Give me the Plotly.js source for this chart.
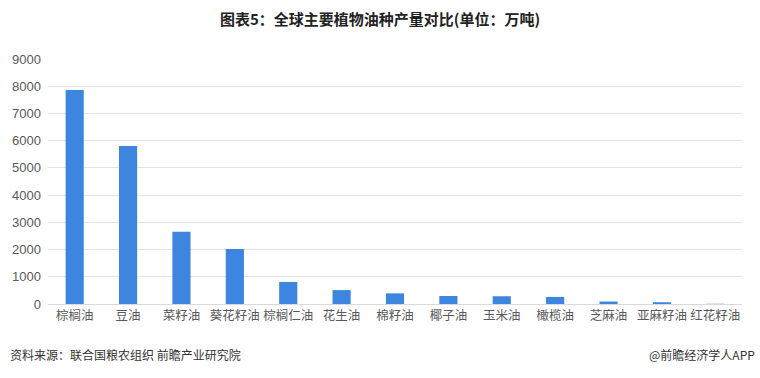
<!DOCTYPE html>
<html><head><meta charset="utf-8">
<script src="https://cdn.plot.ly/plotly-3.0.1.min.js"></script>
<style>html,body{margin:0;padding:0;background:#fff;}#c{width:760px;height:378px;}</style>
</head><body><div id="c"></div>
<script>
const categories = ["棕榈油","豆油","菜籽油","葵花籽油","棕榈仁油","花生油","棉籽油","椰子油","玉米油","橄榄油","芝麻油","亚麻籽油","红花籽油"];
const production = [7860, 5800, 2650, 2020, 810, 510, 390, 295, 285, 260, 90, 65, 8];
const yTicks = [0,1000,2000,3000,4000,5000,6000,7000,8000,9000];

const trace = {
  type: "bar", x: categories, y: production,
  marker: {color: "#3d85de", line: {color: "#3d85de", width: 0}},
  hoverinfo: "x+y"
};
const font = "'Noto Sans CJK SC', 'Microsoft YaHei', sans-serif";
const layout = {
  width: 760, height: 378,
  margin: {l: 48, r: 18, t: 59, b: 74},
  paper_bgcolor: "#fff", plot_bgcolor: "#fff",
  bargap: 0.66,
  showlegend: false,
  font: {family: font, color: "#595959", size: 12},
  title: {text: "<b>图表5：全球主要植物油种产量对比(单位：万吨)</b>", x: 0.5, xanchor: "center", y: 0.948, yanchor: "middle",
          font: {family: font, size: 15, color: "#222"}},
  xaxis: {type: "category", showgrid: false, showline: true, linecolor: "#d9d9d9", linewidth: 1, ticks: "",
          tickfont: {family: font, size: 12.5, color: "#595959"}, automargin: false},
  yaxis: {range: [0, 9000], tickvals: yTicks, ticktext: yTicks.map(String), showgrid: true, gridcolor: "#e3e3e3", gridwidth: 1,
          zeroline: false, showline: false, ticks: "", ticklen: 0, ticklabelstandoff: 6,
          tickfont: {family: "'Liberation Sans', Arial, sans-serif", size: 13, color: "#595959"},
          automargin: false},
  annotations: [
    {text: "资料来源：联合国粮农组织 前瞻产业研究院", xref: "paper", yref: "paper", x: -0.058, y: -0.208, xanchor: "left", yanchor: "middle",
     showarrow: false, font: {family: font, size: 12, color: "#333"}},
    {text: "@前瞻经济学人APP", xref: "paper", yref: "paper", x: 1.0216, y: -0.208, xanchor: "right", yanchor: "middle",
     showarrow: false, font: {family: font, size: 12, color: "#333"}}
  ]
};
Plotly.newPlot("c", [trace], layout, {displayModeBar: false, staticPlot: true});
</script></body></html>
